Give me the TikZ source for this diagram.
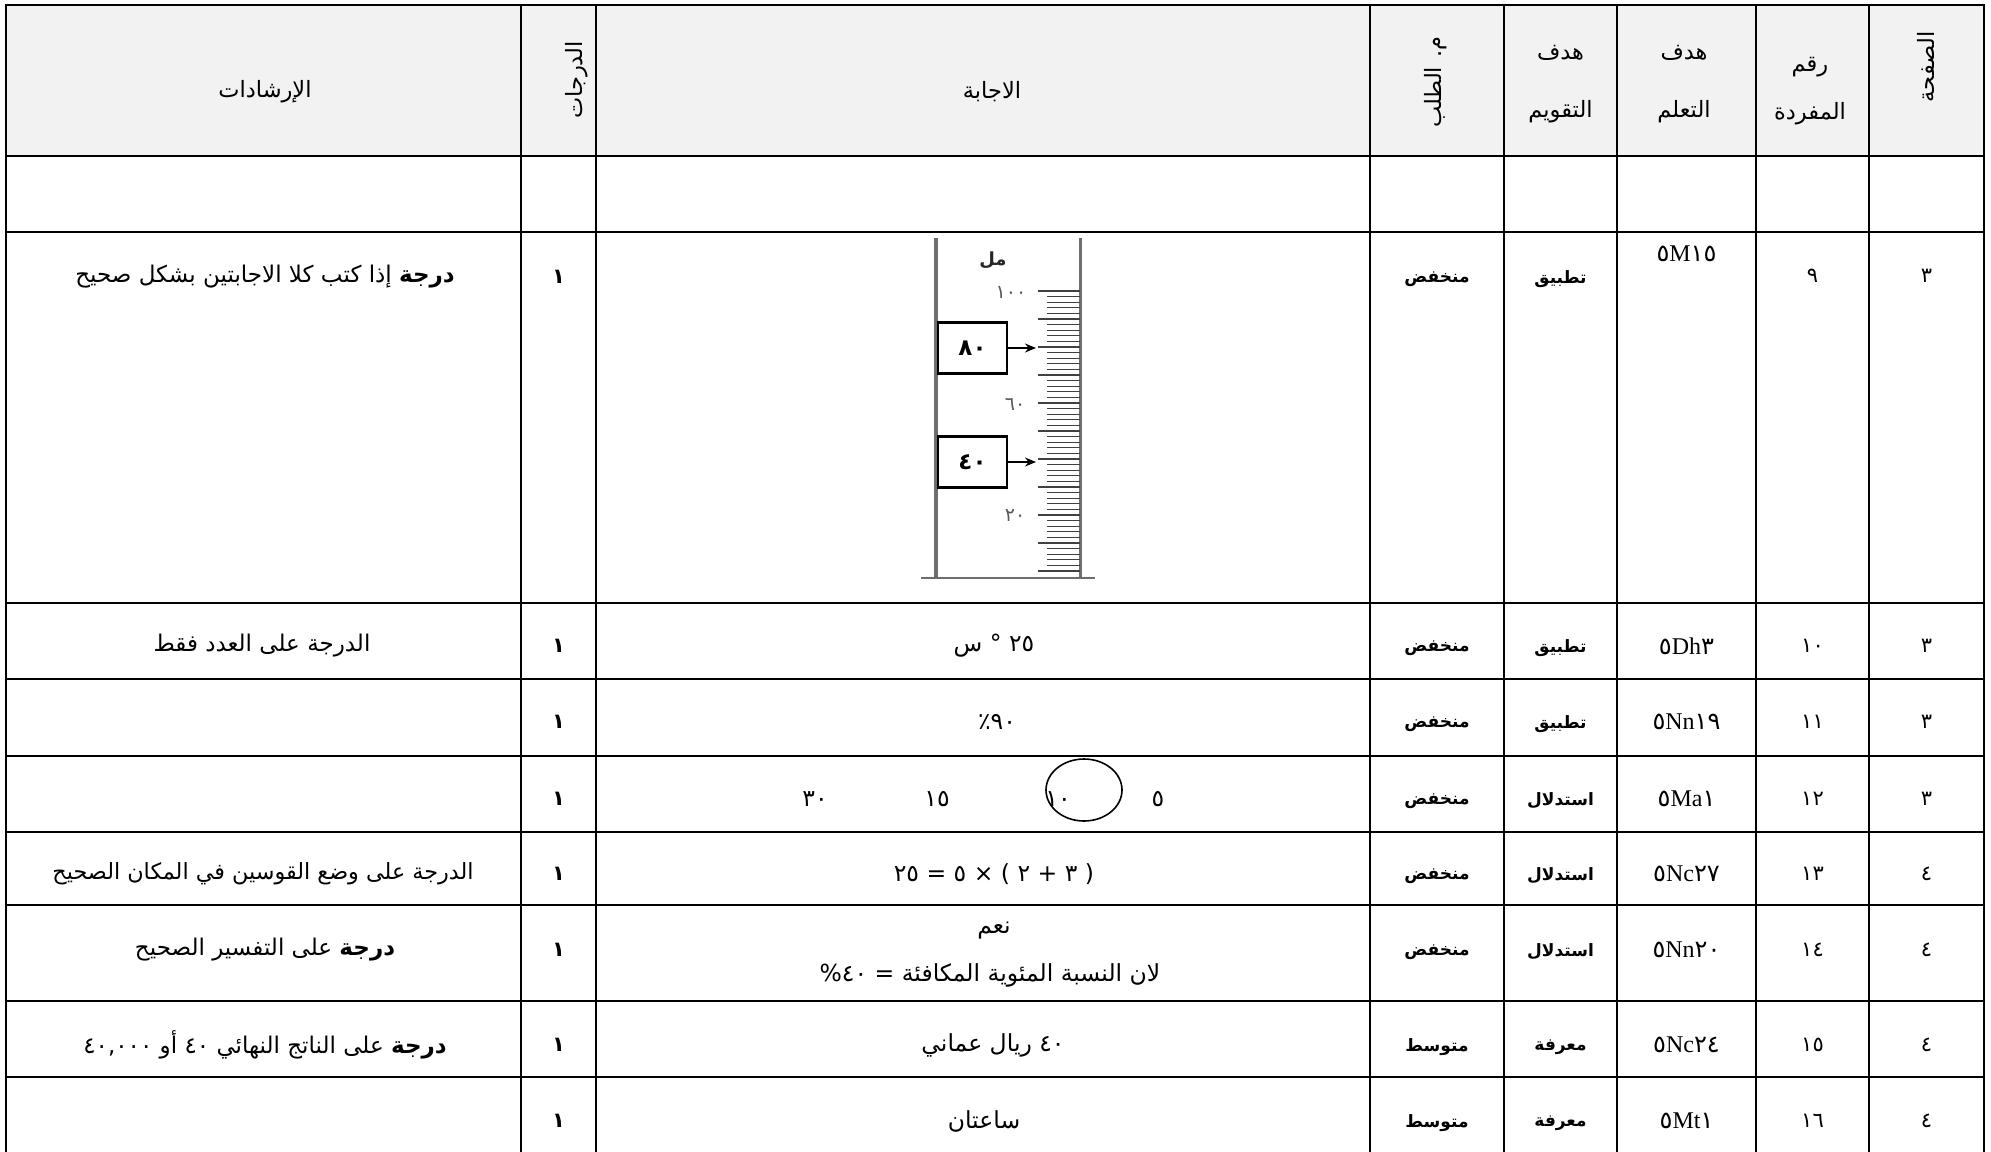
\documentclass[tikz,border=0pt]{standalone}
\usepackage{fontspec}
\setmainfont{DejaVu Sans}
\newfontfamily\arabicfont[Script=Arabic]{DejaVu Sans}
\newfontfamily\latserif{Liberation Serif}
\usetikzlibrary{arrows.meta}
\TeXXeTstate=1
\definecolor{hdrgray}{HTML}{F2F2F2}
\definecolor{cylgray}{HTML}{6E6E6E}
\newcommand{\artxt}[1]{\beginR #1\endR}
\newcommand{\adig}[1]{{\arabicfont #1}}
\tikzset{
  gridline/.style={line width=2.8pt, line cap=rect},
  hdrtext/.style={font=\arabicfont\fontsize{22.5}{26}\selectfont, inner sep=0pt},
  bodytext/.style={font=\arabicfont\fontsize{23}{26}\selectfont, inner sep=0pt},
  anstext/.style={font=\arabicfont\fontsize{23.5}{26}\selectfont, inner sep=0pt},
  lvltext/.style={font=\arabicfont\bfseries\fontsize{17}{20}\selectfont, inner sep=0pt},
  numtext/.style={font=\arabicfont\fontsize{21}{24}\selectfont, inner sep=0pt},
  gradetext/.style={font=\arabicfont\bfseries\fontsize{21}{24}\selectfont, inner sep=0pt},
  codetext/.style={font=\latserif\fontsize{24}{26}\selectfont, inner sep=0pt},
  valbox/.style={draw, line width=2.8pt, minimum width=69pt, minimum height=51pt, inner sep=0pt, font=\arabicfont\bfseries\fontsize{23}{24}\selectfont},
  scalelbl/.style={font=\arabicfont\fontsize{19}{20}\selectfont, text=black!65, inner sep=0pt},
  tickline/.style={line width=1.2pt, draw=black!75},
  pointer/.style={line width=1.8pt, -{Stealth[length=11pt,width=9pt]}},
}
\begin{document}
\begin{tikzpicture}[x=1pt,y=-1pt]
\useasboundingbox (0,0) rectangle (1991,1151);
% header fill
\fill[hdrgray] (6,5) rectangle (1984,156);
% grid
\foreach \y in {5,156,232,603,679,756,832,905,1001,1077}
  \draw[gridline] (6,\y) -- (1984,\y);
\foreach \x in {6,521,596,1370,1504,1617,1756,1869,1984}
  \draw[gridline] (\x,5) -- (\x,1165);

% ---------- header ----------
\node[hdrtext] (h1) at (265,92) {\artxt{الإرشادات}};
\node[hdrtext, rotate=90] (h2) at (577,80) {\artxt{الدرجات}};
\node[hdrtext] (h3) at (992,92) {\artxt{الاجابة}};
\node[hdrtext, rotate=90] (h4) at (1436,82) {\artxt{م. الطلب}};
\node[hdrtext] (h5a) at (1560.5,53) {\artxt{هدف}};
\node[hdrtext] (h5b) at (1560.5,112) {\artxt{التقويم}};
\node[hdrtext] (h6a) at (1684,53) {\artxt{هدف}};
\node[hdrtext] (h6b) at (1684,112) {\artxt{التعلم}};
\node[hdrtext] (h7a) at (1810,67) {\artxt{رقم}};
\node[hdrtext] (h7b) at (1810,114) {\artxt{المفردة}};
\node[hdrtext, rotate=90] (h8) at (1926,67) {\artxt{الصفحة}};

% ---------- row 3 (item 9) ----------
\node[bodytext] (g9) at (265,277) {\artxt{{\bfseries درجة} إذا كتب كلا الاجابتين بشكل صحيح}};
\node[gradetext] (d9) at (558.5,277) {١};
\node[lvltext] (l9) at (1437,279) {\artxt{منخفض}};
\node[lvltext] (e9) at (1560.5,279) {\artxt{تطبيق}};
\node[codetext] (o9) at (1686.5,254) {\adig{٥}M\adig{١٥}};
\node[numtext] (n9) at (1812.5,276) {٩};
\node[numtext] (p9) at (1926.5,276) {٣};

% graduated cylinder
\draw[cylgray, line width=4pt] (936,238) -- (936,578);
\draw[cylgray, line width=3pt] (1080,238) -- (1080,578);
\draw[cylgray, line width=2pt] (921,578) -- (1095,578);
\foreach \v in {0,2,...,100} {
  \pgfmathsetmacro{\ty}{571-2.8*\v}
  \pgfmathtruncatemacro{\md}{mod(\v,10)}
  \ifnum\md=0
    \draw[tickline] (1038,\ty) -- (1080,\ty);
  \else
    \draw[tickline] (1047,\ty) -- (1080,\ty);
  \fi
}
\node[font=\arabicfont\bfseries\fontsize{18}{20}\selectfont, inner sep=0pt, text=black!85] (ml) at (993,260) {\artxt{مل}};
\node[scalelbl] (s100) at (1011,292) {١٠٠};
\node[scalelbl] (s60) at (1015,404) {٦٠};
\node[scalelbl] (s20) at (1015,515) {٢٠};
\node[valbox] (b80) at (972.5,348) {٨٠};
\node[valbox] (b40) at (972.5,462) {٤٠};
\coordinate (t80) at (1036,348);
\coordinate (t40) at (1036,462);
\draw[pointer] (b80.east) -- (t80);
\draw[pointer] (b40.east) -- (t40);

% ---------- row 4 (item 10) ----------
\node[bodytext] (g10) at (262,646) {\artxt{الدرجة على العدد فقط}};
\node[gradetext] (d10) at (558.5,646) {١};
\node[anstext] (a10) at (994,646) {\artxt{٢٥ ° س}};
\node[lvltext] (l10) at (1437,648) {\artxt{منخفض}};
\node[lvltext] (e10) at (1560.5,648) {\artxt{تطبيق}};
\node[codetext] (o10) at (1686.5,646) {\adig{٥}Dh\adig{٣}};
\node[numtext] (n10) at (1812.5,646) {١٠};
\node[numtext] (p10) at (1926.5,646) {٣};

% ---------- row 5 (item 11) ----------
\node[gradetext] (d11) at (558.5,722) {١};
\node[anstext] (a11) at (997,722) {\artxt{٩٠\kern0pt٪}};
\node[lvltext] (l11) at (1437,724) {\artxt{منخفض}};
\node[lvltext] (e11) at (1560.5,724) {\artxt{تطبيق}};
\node[codetext] (o11) at (1686.5,722) {\adig{٥}Nn\adig{١٩}};
\node[numtext] (n11) at (1812.5,722) {١١};
\node[numtext] (p11) at (1926.5,722) {٣};

% ---------- row 6 (item 12) ----------
\node[gradetext] (d12) at (558.5,799) {١};
\node[anstext] (a12a) at (815,799) {٣٠};
\node[anstext] (a12b) at (937,799) {١٥};
\node[anstext] (a12c) at (1058,799) {١٠};
\node[anstext] (a12d) at (1158,799) {٥};
\draw[line width=1.6pt] (1084,790) ellipse [x radius=38, y radius=31];
\node[lvltext] (l12) at (1437,801) {\artxt{منخفض}};
\node[lvltext] (e12) at (1560.5,801) {\artxt{استدلال}};
\node[codetext] (o12) at (1686.5,799) {\adig{٥}Ma\adig{١}};
\node[numtext] (n12) at (1812.5,799) {١٢};
\node[numtext] (p12) at (1926.5,799) {٣};

% ---------- row 7 (item 13) ----------
\node[bodytext, font=\arabicfont\fontsize{22.3}{26}\selectfont] (g13) at (263,874) {\artxt{الدرجة على وضع القوسين في المكان الصحيح}};
\node[gradetext] (d13) at (558.5,874) {١};
\node[anstext] (a13) at (994,874) {\artxt{( ٣ + ٢ ) × ٥ = ٢٥}};
\node[lvltext] (l13) at (1437,876) {\artxt{منخفض}};
\node[lvltext] (e13) at (1560.5,876) {\artxt{استدلال}};
\node[codetext] (o13) at (1686.5,874) {\adig{٥}Nc\adig{٢٧}};
\node[numtext] (n13) at (1812.5,874) {١٣};
\node[numtext] (p13) at (1926.5,874) {٤};

% ---------- row 8 (item 14) ----------
\node[bodytext] (g14) at (265,950) {\artxt{{\bfseries درجة} على التفسير الصحيح}};
\node[gradetext] (d14) at (558.5,950) {١};
\node[anstext] (a14a) at (994,931) {\artxt{نعم}};
\node[anstext] (a14b) at (990,975) {\artxt{لان النسبة المئوية المكافئة = ٤٠\kern0pt\%}};
\node[lvltext] (l14) at (1437,952) {\artxt{منخفض}};
\node[lvltext] (e14) at (1560.5,952) {\artxt{استدلال}};
\node[codetext] (o14) at (1686.5,950) {\adig{٥}Nn\adig{٢٠}};
\node[numtext] (n14) at (1812.5,950) {١٤};
\node[numtext] (p14) at (1926.5,950) {٤};

% ---------- row 9 (item 15) ----------
\node[bodytext] (g15) at (265,1045) {\artxt{{\bfseries درجة} على الناتج النهائي ٤٠ أو ٤٠,٠٠٠}};
\node[gradetext] (d15) at (558.5,1045) {١};
\node[anstext] (a15) at (993,1045) {\artxt{٤٠ ريال عماني}};
\node[lvltext] (l15) at (1437,1047) {\artxt{متوسط}};
\node[lvltext] (e15) at (1560.5,1047) {\artxt{معرفة}};
\node[codetext] (o15) at (1686.5,1045) {\adig{٥}Nc\adig{٢٤}};
\node[numtext] (n15) at (1812.5,1045) {١٥};
\node[numtext] (p15) at (1926.5,1045) {٤};

% ---------- row 10 (item 16) ----------
\node[gradetext] (d16) at (558.5,1121) {١};
\node[anstext] (a16) at (984,1121) {\artxt{ساعتان}};
\node[lvltext] (l16) at (1437,1123) {\artxt{متوسط}};
\node[lvltext] (e16) at (1560.5,1123) {\artxt{معرفة}};
\node[codetext] (o16) at (1686.5,1121) {\adig{٥}Mt\adig{١}};
\node[numtext] (n16) at (1812.5,1121) {١٦};
\node[numtext] (p16) at (1926.5,1121) {٤};
\end{tikzpicture}
\end{document}
